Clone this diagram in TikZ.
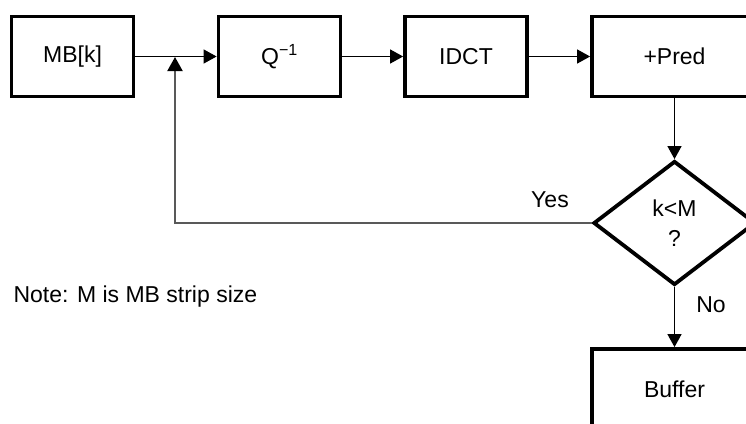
\documentclass[tikz,border=0pt]{standalone}
\usepackage{fontspec}
\setmainfont{Liberation Sans}
\usetikzlibrary{shapes.geometric,arrows.meta}
\begin{document}
\begin{tikzpicture}[x=1pt,y=-1pt,
  every node/.style={font=\fontsize{23}{30}\selectfont},
  blk/.style={draw, rectangle, line width=3.8pt, minimum width=122pt, minimum height=80pt, inner sep=0pt},
  dec/.style={draw, diamond, line width=3.8pt, minimum width=162pt, minimum height=124pt, inner sep=0pt, align=center},
  arr/.style={line width=1.3pt, -{Triangle[length=13pt,width=14pt]}},
  fb/.style={line width=2pt, draw=black!65, -{Triangle[length=14pt,width=15pt,color=black]}}]
\useasboundingbox (0,0) rectangle (746,423);
\clip (0,0) rectangle (746,423);
\node[blk] (a) at (72.5,56.5) {MB[k]};
\node[blk] (b) at (279.5,56.5) {Q\textsuperscript{−1}};
\node[blk] (c) at (466,56.5) {IDCT};
\node[blk, minimum width=165pt] (d) at (674.5,56.5) {+Pred};
\node[dec] (e) at (674.5,223) {k<M\\?};
\node[blk, minimum width=165pt] (f) at (674.5,389) {Buffer};
\coordinate (j) at (175,57);
\draw[arr] (a)--(b);
\draw[arr] (b)--(c);
\draw[arr] (c)--(d);
\draw[arr] (d)--(e);
\draw[arr] (e)--(f);
\draw[fb] (e.west) -| (j);
\node (yes) at (550,200) {Yes};
\node (no) at (711,305) {No};
\node[anchor=base west] (note) at (10,302) {Note: M is MB strip size};
\end{tikzpicture}
\end{document}
